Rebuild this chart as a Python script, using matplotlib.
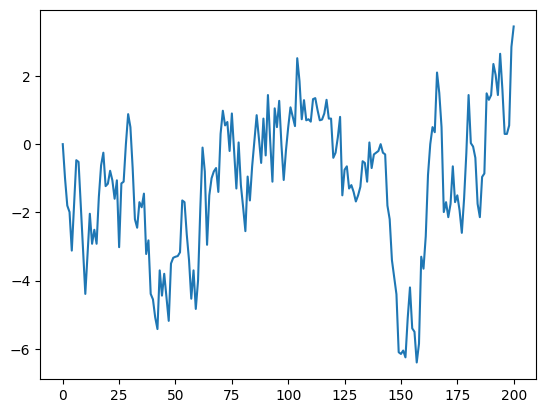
import numpy as np
import matplotlib
matplotlib.use("Agg")
import matplotlib.pyplot as plt

# values, one per step 0..200
walk = [
    0.0, -1.0, -1.8, -1.99, -3.12, -1.8, -0.47, -0.52, -1.83, -3.15,
    -4.39, -3.2, -2.04, -2.92, -2.51, -2.92, -1.55, -0.62, -0.25, -1.23,
    -1.16, -0.78, -1.06, -1.6, -1.06, -3.02, -1.15, -1.1, 0.0, 0.88,
    0.5, -0.7, -2.2, -2.45, -1.7, -1.85, -1.45, -3.22, -2.82, -4.39,
    -4.55, -5.08, -5.42, -3.7, -4.44, -3.8, -4.5, -5.18, -3.5, -3.33,
    -3.3, -3.28, -3.17, -1.65, -1.7, -2.65, -3.4, -4.53, -3.7, -4.83,
    -4.0, -1.9, -0.1, -0.8, -2.95, -1.5, -1.0, -0.8, -0.7, -1.4,
    0.3, 0.98, 0.55, 0.65, -0.2, 0.9, -0.2, -1.3, 0.05, -1.2,
    -1.85, -2.55, -0.95, -1.65, -0.65, 0.1, 0.85, 0.17, -0.55, 0.75,
    -0.33, 1.44, 0.1, -1.1, 1.05, 0.5, 1.27, -0.03, -1.05, -0.18,
    0.5, 1.08, 0.8, 0.53, 2.52, 1.85, 0.73, 1.29, 0.7, 0.73,
    0.66, 1.32, 1.35, 1.0, 0.7, 0.72, 0.9, 1.3, 0.75, 0.75,
    -0.4, -0.25, 0.2, 0.8, -1.5, -0.75, -0.65, -1.3, -1.2, -1.4,
    -1.68, -1.5, -1.25, -0.5, -0.55, -1.1, 0.05, -0.7, -0.3, -0.25,
    -0.2, 0.0, -0.25, -0.3, -1.8, -2.2, -3.4, -3.9, -4.4, -6.1,
    -6.15, -6.05, -6.25, -5.1, -4.2, -5.4, -5.5, -6.4, -5.85, -3.3,
    -3.65, -2.7, -0.9, 0.0, 0.5, 0.35, 2.1, 1.5, 0.5, -1.99,
    -1.7, -2.14, -1.75, -0.65, -1.7, -1.5, -1.94, -2.6, -1.6, -0.27,
    1.44, 0.03, -0.07, -0.4, -1.75, -2.14, -0.96, -0.86, 1.49, 1.3,
    1.44, 2.35, 2.03, 1.44, 2.65, 1.6, 0.3, 0.3, 0.55, 2.85,
    3.45,
]
steps = np.arange(len(walk))

fig, ax = plt.subplots(figsize=(6.4, 4.8), dpi=100)
ax.plot(steps, walk)
fig.savefig("out.png", bbox_inches="tight")
